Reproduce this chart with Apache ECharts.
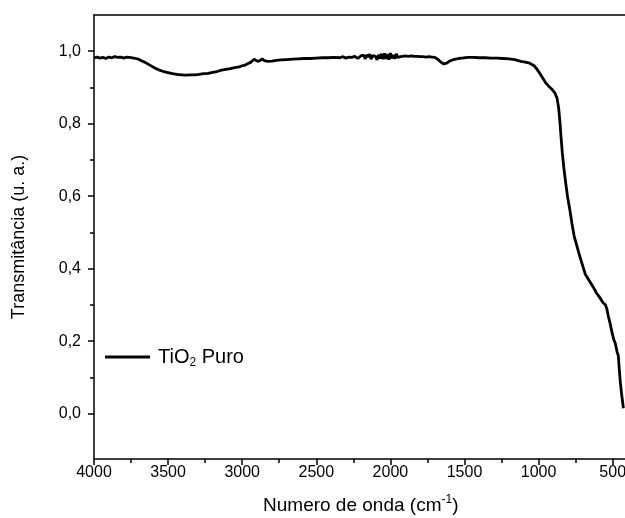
<!DOCTYPE html>
<html>
<head>
<meta charset="utf-8">
<script src="https://cdn.jsdelivr.net/npm/echarts@6/dist/echarts.min.js"></script>
<style>html,body{margin:0;padding:0;background:#fff}#c{width:625px;height:518px}</style>
</head>
<body>
<div id="c"></div>
<script>
const wavenumber = [4000,3980,3960,3940,3920,3900,3880,3860,3840,3820,3800,3780,3760,3740,3720,3700,3680,3650,3620,3590,3560,3530,3500,3470,3440,3410,3380,3350,3320,3290,3260,3230,3200,3170,3140,3110,3080,3050,3020,3000,2980,2960,2940,2920,2910,2895,2880,2865,2850,2830,2800,2770,2740,2700,2660,2620,2580,2540,2500,2460,2420,2380,2340,2320,2300,2280,2260,2240,2220,2200,2190,2180,2170,2160,2150,2140,2130,2120,2110,2100,2090,2080,2070,2060,2050,2040,2030,2020,2010,2000,1990,1980,1970,1960,1950,1940,1930,1920,1900,1880,1860,1840,1820,1800,1780,1760,1740,1720,1700,1680,1660,1640,1630,1620,1600,1580,1560,1540,1520,1500,1470,1440,1400,1360,1320,1280,1240,1200,1160,1120,1090,1060,1030,1010,990,970,950,930,910,890,875,865,855,848,840,830,818,805,790,775,760,745,730,715,700,685,670,655,640,625,610,595,580,565,550,540,530,518,505,493,483,470,462,455,448,440,432,428];
const transmittance = [0.982,0.984,0.981,0.983,0.980,0.984,0.982,0.985,0.983,0.984,0.981,0.984,0.983,0.982,0.980,0.978,0.974,0.968,0.961,0.954,0.948,0.944,0.941,0.938,0.936,0.935,0.934,0.935,0.935,0.936,0.938,0.939,0.942,0.944,0.948,0.950,0.952,0.955,0.957,0.960,0.962,0.966,0.970,0.978,0.975,0.972,0.974,0.979,0.974,0.972,0.973,0.975,0.976,0.977,0.978,0.979,0.980,0.980,0.981,0.982,0.982,0.983,0.982,0.985,0.981,0.984,0.983,0.986,0.980,0.987,0.982,0.989,0.979,0.990,0.984,0.992,0.978,0.988,0.983,0.986,0.976,0.990,0.980,0.993,0.978,0.994,0.979,0.992,0.977,0.995,0.981,0.990,0.979,0.993,0.983,0.988,0.985,0.990,0.987,0.986,0.987,0.986,0.986,0.985,0.985,0.984,0.985,0.984,0.983,0.978,0.970,0.965,0.964,0.967,0.973,0.976,0.978,0.980,0.981,0.982,0.983,0.983,0.982,0.982,0.981,0.981,0.980,0.979,0.977,0.972,0.970,0.967,0.960,0.950,0.938,0.925,0.912,0.903,0.895,0.885,0.870,0.845,0.800,0.760,0.720,0.680,0.640,0.600,0.565,0.525,0.490,0.468,0.446,0.425,0.405,0.385,0.375,0.365,0.355,0.345,0.333,0.325,0.316,0.306,0.301,0.290,0.270,0.250,0.225,0.205,0.195,0.170,0.160,0.120,0.085,0.055,0.030,0.015];
const xMajorTicks = [4000,3500,3000,2500,2000,1500,1000,500];
const xMinorTicks = [3750,3250,2750,2250,1750,1250,750];
const yMajorTicks = [0,0.2,0.4,0.6,0.8,1.0];
const yMinorTicks = [0.1,0.3,0.5,0.7,0.9];
const seriesName = 'TiO2 Puro';

const FONT = 'Liberation Sans, Arial, sans-serif';
const chart = echarts.init(document.getElementById('c'), null, {renderer: 'canvas'});
const axisLineStyle = {color: '#000', width: 1.5};
const data = wavenumber.map((w, i) => [w, transmittance[i]]);
const fmtY = v => v.toFixed(1).replace('.', ',');
const fmtX = v => String(Math.round(v));

chart.setOption({
  backgroundColor: '#fff',
  animation: false,
  grid: {left: 94, top: 15, width: 533.5, height: 444, containLabel: false, outerBoundsMode: 'none'},
  legend: {
    show: true, left: 105, top: 347, padding: 0, data: [seriesName],
    icon: 'rect', itemWidth: 45, itemHeight: 3, itemGap: 0,
    formatter: () => '{a|TiO}{s|2}{a| Puro}',
    textStyle: {
      fontFamily: FONT, color: '#000', padding: [0, 0, 0, 3],
      rich: {
        a: {fontSize: 20, fontFamily: FONT, color: '#000'},
        s: {fontSize: 12, fontFamily: FONT, color: '#000', padding: [12, 0, 0, 0]}
      }
    }
  },
  xAxis: [
    {
      type: 'value', position: 'bottom', inverse: true, min: 400, max: 4000,
      axisLine: {show: true, onZero: false, lineStyle: axisLineStyle},
      axisTick: {show: true, inside: false, length: 6, lineStyle: axisLineStyle, customValues: xMajorTicks},
      axisLabel: {show: true, customValues: xMajorTicks, formatter: fmtX, margin: 6, fontSize: 16, fontFamily: FONT, color: '#000'},
      splitLine: {show: false},
      name: '{a|Numero de onda (cm}{s|-1}{a|)}', nameLocation: 'middle', nameGap: 35,
      nameTextStyle: {
        rich: {
          a: {fontSize: 19, fontFamily: FONT, color: '#000'},
          s: {fontSize: 12, fontFamily: FONT, color: '#000', padding: [0, 0, 11, 0]}
        }
      }
    },
    {
      type: 'value', position: 'bottom', inverse: true, min: 400, max: 4000,
      axisLine: {show: false, onZero: false},
      axisTick: {show: true, inside: false, length: 4, lineStyle: axisLineStyle, customValues: xMinorTicks},
      axisLabel: {show: false}, splitLine: {show: false}
    },
    {
      type: 'value', position: 'top', inverse: true, min: 400, max: 4000,
      axisLine: {show: true, onZero: false, lineStyle: axisLineStyle},
      axisTick: {show: false},
      axisLabel: {show: false}, splitLine: {show: false}
    }
  ],
  yAxis: [
    {
      type: 'value', position: 'left', min: -0.125, max: 1.1,
      axisLine: {show: true, onZero: false, lineStyle: axisLineStyle},
      axisTick: {show: true, inside: false, length: 6, lineStyle: axisLineStyle, customValues: yMajorTicks},
      axisLabel: {show: true, customValues: yMajorTicks, formatter: fmtY, margin: 13, fontSize: 16, fontFamily: FONT, color: '#000'},
      splitLine: {show: false},
      name: 'Transmitância (u. a.)', nameLocation: 'middle', nameGap: 66, nameRotate: 90,
      nameTextStyle: {fontSize: 18, fontFamily: FONT, color: '#000'}
    },
    {
      type: 'value', position: 'left', min: -0.125, max: 1.1,
      axisLine: {show: false, onZero: false},
      axisTick: {show: true, inside: false, length: 4, lineStyle: axisLineStyle, customValues: yMinorTicks},
      axisLabel: {show: false}, splitLine: {show: false}
    }
  ],
  series: [{
    name: seriesName, type: 'line', xAxisIndex: 0, yAxisIndex: 0,
    data: data, showSymbol: false, symbol: 'none',
    lineStyle: {color: '#000', width: 2.8}, itemStyle: {color: '#000'},
    clip: true
  }]
});
</script>
</body>
</html>
